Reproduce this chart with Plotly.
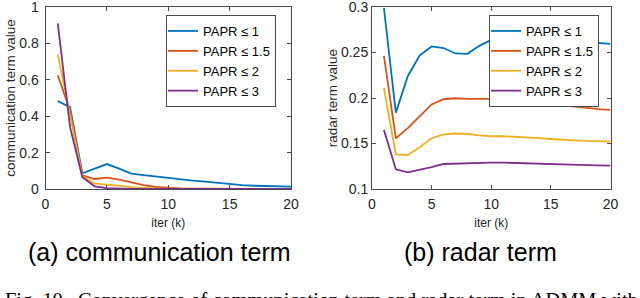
import plotly.graph_objects as go

iters = list(range(1, 21))
series_names = ["PAPR ≤ 1", "PAPR ≤ 1.5", "PAPR ≤ 2", "PAPR ≤ 3"]
colors = ["#0072BD", "#D95319", "#EDB120", "#7E2F8E"]

comm_papr1 = [0.483, 0.45, 0.086, 0.112, 0.137, 0.112, 0.085, 0.076, 0.068, 0.058,
              0.052, 0.046, 0.040, 0.033, 0.026, 0.021, 0.018, 0.016, 0.015, 0.013]
comm_papr15 = [0.625, 0.43, 0.075, 0.055, 0.062, 0.052, 0.036, 0.021, 0.011, 0.005,
               0.003, 0.002, 0.001, 0.001, 0.001, 0.001, 0.001, 0.001, 0.001, 0.001]
comm_papr2 = [0.74, 0.40, 0.070, 0.030, 0.025, 0.018, 0.010, 0.005, 0.003, 0.002,
              0.001, 0.001, 0.001, 0.001, 0.001, 0.001, 0.001, 0.001, 0.001, 0.001]
comm_papr3 = [0.91, 0.34, 0.065, 0.015, 0.005, 0.002, 0.001, 0.001, 0.001, 0.001,
              0.001, 0.001, 0.001, 0.001, 0.001, 0.001, 0.001, 0.001, 0.001, 0.001]

radar_papr1 = [0.299, 0.184, 0.224, 0.247, 0.2567, 0.255, 0.249, 0.2486, 0.2574, 0.264,
               0.265, 0.265, 0.264, 0.263, 0.262, 0.261, 0.261, 0.261, 0.2605, 0.2596]
radar_papr15 = [0.2464, 0.1558, 0.167, 0.180, 0.193, 0.1987, 0.1998, 0.199, 0.199, 0.199,
                0.199, 0.1975, 0.196, 0.1945, 0.193, 0.1915, 0.190, 0.1888, 0.1878, 0.187]
radar_papr2 = [0.211, 0.138, 0.1374, 0.146, 0.1558, 0.160, 0.161, 0.1605, 0.159, 0.158,
               0.158, 0.1575, 0.157, 0.156, 0.155, 0.154, 0.1535, 0.153, 0.1525, 0.152]
radar_papr3 = [0.165, 0.1217, 0.1183, 0.121, 0.124, 0.1275, 0.128, 0.1282, 0.1285, 0.129,
               0.129, 0.1285, 0.128, 0.1275, 0.127, 0.1268, 0.1265, 0.1262, 0.126, 0.1257]

x_ticks = [0, 5, 10, 15, 20]
comm_yticks = [0, 0.2, 0.4, 0.6, 0.8, 1]
radar_yticks = [0.1, 0.15, 0.2, 0.25, 0.3]

comm_series = [comm_papr1, comm_papr15, comm_papr2, comm_papr3]
radar_series = [radar_papr1, radar_papr15, radar_papr2, radar_papr3]

W, H = 640, 298
SANS = "Liberation Sans, Arial, Helvetica, sans-serif"
AX = "#4a4a4a"
TXT = "#262626"

fig = go.Figure()
for name, col, ys in zip(series_names, colors, comm_series):
    fig.add_trace(go.Scatter(x=iters, y=ys, mode="lines", name=name,
                             line=dict(color=col, width=1.8),
                             xaxis="x", yaxis="y", legend="legend"))
for name, col, ys in zip(series_names, colors, radar_series):
    fig.add_trace(go.Scatter(x=iters, y=ys, mode="lines", name=name,
                             line=dict(color=col, width=1.8),
                             xaxis="x2", yaxis="y2", legend="legend2"))

ydom = [(H - 189) / H, (H - 7) / H]

def xax(domain, anchor):
    return dict(domain=domain, anchor=anchor, range=[0, 20], tickvals=x_ticks,
                automargin=False,
                ticks="inside", ticklen=4, tickcolor=AX, showline=True, linecolor=AX,
                linewidth=1, mirror="ticks", showgrid=False, zeroline=False,
                ticklabelstandoff=2, ticklabeloverflow="allow",
                tickfont=dict(family=SANS, size=14, color=TXT),
                title=dict(text="iter (k)", font=dict(family=SANS, size=12, color=TXT),
                           standoff=7))

def yax(domain, anchor, rng, tv, title, tstand):
    return dict(domain=domain, anchor=anchor, range=rng, tickvals=tv,
                automargin=False,
                ticks="inside", ticklen=4, tickcolor=AX, showline=True, linecolor=AX,
                linewidth=1, mirror="ticks", showgrid=False, zeroline=False,
                ticklabelstandoff=tstand, ticklabeloverflow="allow",
                tickfont=dict(family=SANS, size=14, color=TXT),
                title=dict(text=title, font=dict(family=SANS, size=13.5, color=TXT),
                           standoff=0))

legend_common = dict(xanchor="left", yanchor="top", bgcolor="white",
                     bordercolor=AX, borderwidth=1, indentation=-4,
                     font=dict(family=SANS, size=13, color="black"),
                     tracegroupgap=0, itemwidth=30)

fig.update_layout(
    width=W, height=H,
    margin=dict(l=0, r=0, t=0, b=0, autoexpand=False),
    paper_bgcolor="white", plot_bgcolor="white",
    xaxis=xax([45.5 / W, 291 / W], "y"),
    yaxis=yax(ydom, "x", [0, 1.0005], comm_yticks, "communication term value", 3),
    xaxis2=xax([372 / W, 610.5 / W], "y2"),
    yaxis2=yax(ydom, "x2", [0.1, 0.3001], radar_yticks, "radar term value", 0),
    legend=dict(x=166 / W, y=(H - 15) / H, **legend_common),
    legend2=dict(x=489 / W, y=(H - 15) / H, **legend_common),
    annotations=[
        dict(text="(a) communication term", x=159 / W, y=(H - 252) / H,
             xref="paper", yref="paper", xanchor="center", yanchor="middle",
             showarrow=False, font=dict(family=SANS, size=25, color="black")),
        dict(text="(b) radar term", x=480 / W, y=(H - 252) / H,
             xref="paper", yref="paper", xanchor="center", yanchor="middle",
             showarrow=False, font=dict(family=SANS, size=25, color="black")),
        dict(text="Fig. 10.  Convergence of communication term and radar term in ADMM with",
             x=3 / W, y=(H - 300.5) / H,
             xref="paper", yref="paper", xanchor="left", yanchor="middle",
             showarrow=False,
             font=dict(family="Liberation Serif, Times New Roman, serif", size=20.4,
                       color="black")),
    ],
)

fig.write_html("out.html", config={"displayModeBar": False},
               post_script="document.body.style.margin='0';")
